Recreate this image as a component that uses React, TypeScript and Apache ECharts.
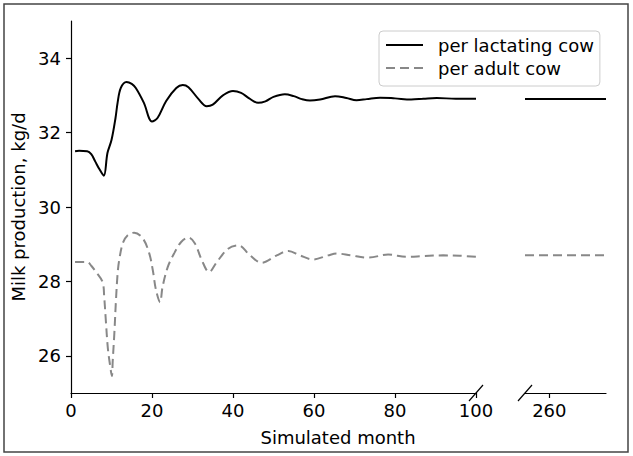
import React, { useEffect, useRef } from "react";
import * as echarts from "echarts";

const seriesNames = ["per lactating cow", "per adult cow"];

const lactatingLeft: [number, number][] = [
  [1, 31.5], [2, 31.51], [4, 31.5], [5, 31.42], [6, 31.22], [7, 31.02], [8.1, 30.84],
  [9, 31.45], [10, 31.8], [11, 32.4], [11.5, 32.8], [12.3, 33.2], [13.7, 33.36],
  [15, 33.31], [16, 33.2], [18, 32.8], [20, 32.3], [21.4, 32.4], [23.5, 32.85],
  [26, 33.2], [27.6, 33.28], [29, 33.22], [31.5, 32.9], [33.5, 32.71], [35, 32.75],
  [37.5, 33.0], [40, 33.12], [42, 33.07], [44, 32.92], [46.2, 32.8], [48, 32.84],
  [50, 32.96], [52.8, 33.03], [55, 32.98], [57, 32.9], [59, 32.86], [61.5, 32.89],
  [65.2, 32.98], [68, 32.93], [70.5, 32.87], [73, 32.9], [76.3, 32.94], [80, 32.92],
  [84, 32.89], [87, 32.91], [90.3, 32.93], [95, 32.91], [100, 32.91],
];

const adultLeft: [number, number][] = [
  [1, 28.52], [2, 28.52], [4, 28.52], [5, 28.42], [6.2, 28.25], [7.8, 27.98],
  [8.2, 27.58], [8.6, 26.95], [9.1, 26.2], [9.6, 25.78], [10.1, 25.46], [10.3, 25.86],
  [10.7, 26.6], [11.1, 27.49], [11.5, 28.2], [11.9, 28.57], [12.8, 29.03], [14, 29.24],
  [15.6, 29.31], [17.7, 29.16], [19.3, 28.76], [20.2, 28.3], [21, 27.76], [22, 27.44],
  [22.6, 27.85], [23.9, 28.39], [25.5, 28.76], [27.2, 29.06], [29, 29.18], [30.6, 29.02],
  [32.3, 28.57], [34.1, 28.25], [36, 28.52], [38.8, 28.88], [41.3, 28.97], [44.2, 28.7],
  [47.1, 28.5], [50.8, 28.7], [53.7, 28.82], [56.5, 28.7], [59.8, 28.59], [63.5, 28.7],
  [65.6, 28.75], [69, 28.7], [73.4, 28.64], [78.3, 28.72], [82.9, 28.66], [87, 28.68],
  [91.9, 28.7], [96, 28.69], [100, 28.66],
];

const lactatingRight: [number, number][] = [[254, 32.9], [274, 32.9]];
const adultRight: [number, number][] = [[254, 28.7], [274, 28.7]];

const yTicks = [26, 28, 30, 32, 34];
const xRightTicks = [260];

export default function App() {
  const ref = useRef<HTMLDivElement>(null);
  useEffect(() => {
    if (!ref.current) return;
    const chart = echarts.init(ref.current, undefined, { renderer: "svg" });
    const font = "DejaVu Sans";
    const axisLine = { show: true, lineStyle: { color: "#000", width: 1.2 } };
    const axisTick = { show: true, length: 5, lineStyle: { color: "#000", width: 1.2 } };
    const label = { fontSize: 18, color: "#000", fontFamily: font };
    const solid = { color: "#000", width: 2, type: "solid" };
    const dashed = { color: "#888", width: 2, type: [9, 5] };
    chart.setOption({
      animation: false,
      textStyle: { fontFamily: font },
      grid: [
        { left: 71, top: 21, width: 405, height: 372 },
        { left: 525, top: 21, width: 81, height: 372 },
      ],
      xAxis: [
        {
          type: "value", gridIndex: 0, min: 0, max: 100, interval: 20,
          axisLine, axisTick, axisLabel: { ...label, margin: 8 }, splitLine: { show: false },
        },
        {
          type: "value", gridIndex: 1, min: 254, max: 274,
          axisLine,
          axisTick: { ...axisTick, customValues: xRightTicks },
          axisLabel: { ...label, margin: 8, customValues: xRightTicks },
          splitLine: { show: false },
        },
      ],
      yAxis: [
        {
          type: "value", gridIndex: 0, min: 25, max: 35,
          axisLine,
          axisTick: { ...axisTick, customValues: yTicks },
          axisLabel: { ...label, margin: 10, customValues: yTicks },
          splitLine: { show: false },
          name: "Milk production, kg/d", nameLocation: "middle", nameGap: 36,
          nameTextStyle: { fontSize: 18, color: "#000", fontFamily: font },
        },
        { type: "value", gridIndex: 1, min: 25, max: 35, show: false },
      ],
      legend: {
        data: seriesNames,
        orient: "vertical",
        left: 379, top: 31,
        padding: [5, 6, 9, 6],
        itemWidth: 37, itemHeight: 14, itemGap: 5,
        borderColor: "#cccccc", borderWidth: 1, borderRadius: 4,
        backgroundColor: "#fff",
        itemStyle: { opacity: 0 },
        textStyle: { fontSize: 18, color: "#000", fontFamily: font, padding: [0, 0, 0, 10] },
      },
      series: [
        { name: seriesNames[0], type: "line", xAxisIndex: 0, yAxisIndex: 0, data: lactatingLeft, showSymbol: false, symbol: "none", smooth: 0.35, itemStyle: { color: "#000" }, lineStyle: solid, z: 3 },
        { name: seriesNames[1], type: "line", xAxisIndex: 0, yAxisIndex: 0, data: adultLeft, showSymbol: false, symbol: "none", smooth: 0.35, itemStyle: { color: "#888" }, lineStyle: dashed, z: 2 },
        { name: seriesNames[0], type: "line", xAxisIndex: 1, yAxisIndex: 1, data: lactatingRight, showSymbol: false, symbol: "none", itemStyle: { color: "#000" }, lineStyle: solid, z: 3 },
        { name: seriesNames[1], type: "line", xAxisIndex: 1, yAxisIndex: 1, data: adultRight, showSymbol: false, symbol: "none", itemStyle: { color: "#888" }, lineStyle: dashed, z: 2 },
      ],
      graphic: [
        { type: "rect", shape: { x: 4, y: 4, width: 624, height: 448 }, style: { fill: "none", stroke: "#444", lineWidth: 1.5 }, silent: true },
        { type: "line", shape: { x1: 469, y1: 401, x2: 483, y2: 385 }, style: { stroke: "#000", lineWidth: 1.2 } },
        { type: "line", shape: { x1: 518, y1: 401, x2: 532, y2: 385 }, style: { stroke: "#000", lineWidth: 1.2 } },
        { type: "text", x: 338, y: 437, style: { text: "Simulated month", fontSize: 18, fill: "#000", fontFamily: font, textAlign: "center", textVerticalAlign: "middle" } },
      ],
    });
    return () => chart.dispose();
  }, []);
  return <div ref={ref} style={{ position: "fixed", left: 0, top: 0, width: 633, height: 456, background: "#fff" }} />;
}
